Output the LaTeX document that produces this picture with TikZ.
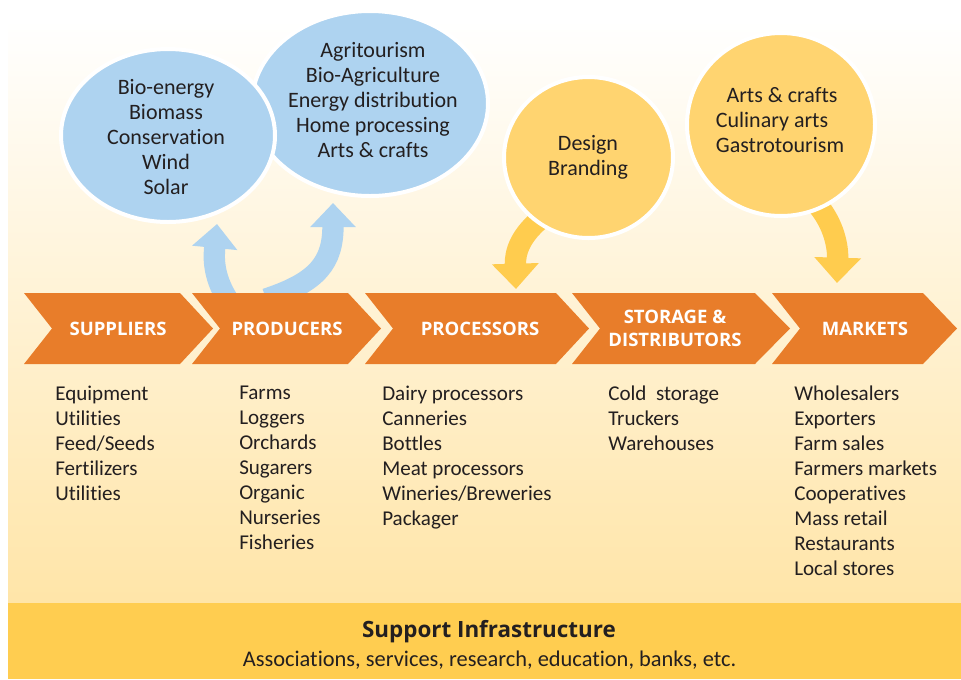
\documentclass[tikz,border=0pt]{standalone}
\usepackage{fontspec}
\setmainfont{Carlito}[Ligatures=NoCommon]
\newfontfamily\hdfont{Open Sans}
\usetikzlibrary{arrows.meta,shapes.geometric}
\definecolor{orng}{HTML}{E87D2A}
\definecolor{bub}{HTML}{AED3F0}
\definecolor{ycirc}{HTML}{FFD470}
\definecolor{yarr}{HTML}{FFCC4E}
\definecolor{supbar}{HTML}{FFCD50}
\definecolor{bgbot}{HTML}{FFE5A8}
\definecolor{txt}{HTML}{231F20}
\newcommand\mychev[3]{\fill[fill=orng] (#1,293) -- (#2,293) -- (#3,328.5) -- (#2,364) -- (#1,364) -- ({#1+28},328.5) -- cycle;}
\begin{document}
\begin{tikzpicture}[x=0.75pt,y=-0.75pt,
  bubshape/.style={ellipse, draw=white, line width=3pt, inner sep=0pt},
  bubtxt/.style={align=center, text=txt, font=\fontsize{16.5pt}{18.75pt}\selectfont},
  listtxt/.style={align=left, anchor=north west, inner sep=0pt, text=txt, font=\fontsize{15.8pt}{18.75pt}\selectfont},
  chevlbl/.style={align=center, text=white, font=\hdfont\bfseries\fontsize{13.9pt}{17.25pt}\selectfont},
  barrow/.style={draw=bub, line width=16pt, -{Triangle[width=33pt,length=18pt]}},
  yarrow/.style={draw=yarr, line width=16pt, -{Triangle[width=34pt,length=19pt]}}]
\useasboundingbox (0,0) rectangle (961,679);
\fill[fill=white] (0,0) rectangle (961,679);
% background
\shade[top color=white, bottom color=bgbot] (8,20) rectangle (961,603);
\fill[fill=supbar] (8,603) rectangle (961,679);
% arrows (behind)
\coordinate (ba1s) at (228,300);
\coordinate (ba1e) at (217,224);
\coordinate (ba2s) at (266,299);
\coordinate (ba2e) at (333,203);
\coordinate (ya1s) at (544,216);
\coordinate (ya1e) at (516,289);
\coordinate (ya2s) at (816,203);
\coordinate (ya2e) at (837,283);
\draw[barrow] (ba1s) .. controls (212,275) and (214,255) .. (ba1e);
\draw[barrow] (ba2s) .. controls (318,282) and (333,262) .. (ba2e);
\draw[yarrow] (ya1s) .. controls (520,235) and (515,252) .. (ya1e);
\draw[yarrow] (ya2s) .. controls (835,225) and (838,248) .. (ya2e);
% bubbles
\node[bubshape, fill=bub, minimum width=177pt, minimum height=138.75pt] (e2) at (370,103.5) {};
\node[bubshape, fill=bub, minimum width=160.5pt, minimum height=129.75pt] (e1) at (168,135.5) {};
\node[bubshape, fill=ycirc, minimum width=126.75pt, minimum height=120.75pt] (c1) at (588.5,157.5) {};
\node[bubshape, fill=ycirc, minimum width=141pt, minimum height=137.25pt] (c2) at (781,124.5) {};
\node[bubtxt] (e1t) at (166,137) {Bio-energy\\Biomass\\Conservation\\Wind\\Solar};
\node[bubtxt] (e2t) at (373,100) {Agritourism\\Bio-Agriculture\\Energy distribution\\Home processing\\Arts \& crafts};
\node[bubtxt] (c1t) at (588,157.5) {Design\\Branding};
\node[bubtxt, align=left] (c2t) at (780,120) {\hspace{8pt}Arts \& crafts\\Culinary arts\\Gastrotourism};
% chevrons
\mychev{24}{180}{213}
\mychev{192}{348}{381}
\mychev{365}{556}{589}
\mychev{572}{755}{790}
\mychev{772}{923}{957}
\node[chevlbl] (s1) at (118,329) {SUPPLIERS};
\node[chevlbl] (s2) at (287,329) {PRODUCERS};
\node[chevlbl] (s3) at (480,329) {PROCESSORS};
\node[chevlbl] (s4) at (675,328.5) {STORAGE \&\\DISTRIBUTORS};
\node[chevlbl] (s5) at (865,329) {MARKETS};
% lists
\node[listtxt] (l1) at (55,386) {Equipment\\Utilities\\Feed/Seeds\\Fertilizers\\Utilities};
\node[listtxt] (l2) at (239,386) {Farms\\Loggers\\Orchards\\Sugarers\\Organic\\Nurseries\\Fisheries};
\node[listtxt] (l3) at (382,386) {Dairy processors\\Canneries\\Bottles\\Meat processors\\Wineries/Breweries\\Packager};
\node[listtxt] (l4) at (608,386) {Cold\ \ storage\\Truckers\\Warehouses};
\node[listtxt] (l5) at (794,386) {Wholesalers\\Exporters\\Farm sales\\Farmers markets\\Cooperatives\\Mass retail\\Restaurants\\Local stores};
% support
\node[text=txt, font=\hdfont\bfseries\fontsize{16.8pt}{20pt}\selectfont] (sup) at (489,632) {Support Infrastructure};
\node[text=txt, font=\fontsize{16.8pt}{18pt}\selectfont] (supt) at (489.5,660) {Associations, services, research, education, banks, etc.};
\end{tikzpicture}
\end{document}
